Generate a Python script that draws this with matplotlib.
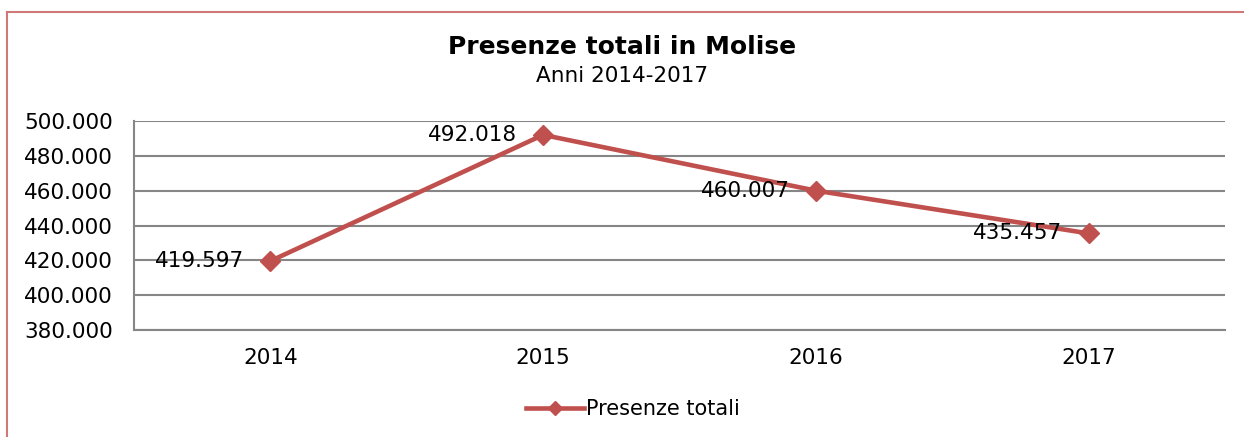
import matplotlib
matplotlib.use("Agg")
import matplotlib.pyplot as plt
from matplotlib.lines import Line2D
from matplotlib.ticker import FuncFormatter

years = ["2014", "2015", "2016", "2017"]
presenze = [419597, 492018, 460007, 435457]
series_name = "Presenze totali"
title = "Presenze totali in Molise"
subtitle = "Anni 2014-2017"

plt.rcParams['font.family'] = ['DejaVu Sans']

fig = plt.figure(figsize=(12.44, 4.37), dpi=100)
ax = fig.add_axes([134/1244, 1-330/437, (1225-134)/1244, (330-121)/437])

line_color = "#C0504D"
x = list(range(len(years)))
ax.plot(x, presenze, color=line_color, linewidth=3.3, marker="D", markersize=10,
        label=series_name, zorder=3)

def fmt(v):
    return f"{int(round(v)):,}".replace(",", ".")

for xi, v in zip(x, presenze):
    ax.annotate(fmt(v), (xi, v), xytext=(-19, 0), textcoords="offset points",
                ha="right", va="center", fontsize=15.5, color="black", zorder=4)

ax.set_xlim(-0.5, len(years) - 0.5)
ax.set_ylim(380000, 500000)
ax.set_yticks(range(380000, 500001, 20000))
ax.yaxis.set_major_formatter(FuncFormatter(lambda v, p: fmt(v)))
ax.set_xticks(x)
ax.set_xticklabels(years)
ax.tick_params(axis="y", length=0, pad=15, labelsize=15.5)
ax.tick_params(axis="x", length=0, pad=13, labelsize=15.5)

ax.grid(axis="y", color="#868686", linewidth=1.5, zorder=0)
ax.set_axisbelow(True)
for s in ["top", "right"]:
    ax.spines[s].set_visible(False)
for s in ["left", "bottom"]:
    ax.spines[s].set_color("#868686")
    ax.spines[s].set_linewidth(1.5)

fig.text(0.5, 1-47/437, title, ha="center", va="center", fontsize=18, fontweight="bold")
fig.text(0.5, 1-76/437, subtitle, ha="center", va="center", fontsize=15.5)

fig.legend(handles=ax.get_lines(), labels=[series_name], loc="center",
           bbox_to_anchor=(0.509, 1-409/437), frameon=False, fontsize=15,
           handlelength=2.8, handletextpad=0.1, markerscale=0.7)

# outer chart border (top and left visible)
border_color = "#D07777"
fig.add_artist(Line2D([7/1244, 1.01], [1-12/437, 1-12/437], transform=fig.transFigure,
                      color=border_color, linewidth=1.5))
fig.add_artist(Line2D([7/1244, 7/1244], [-0.01, 1-12/437], transform=fig.transFigure,
                      color=border_color, linewidth=1.5))

fig.savefig("out.png", dpi=100)
